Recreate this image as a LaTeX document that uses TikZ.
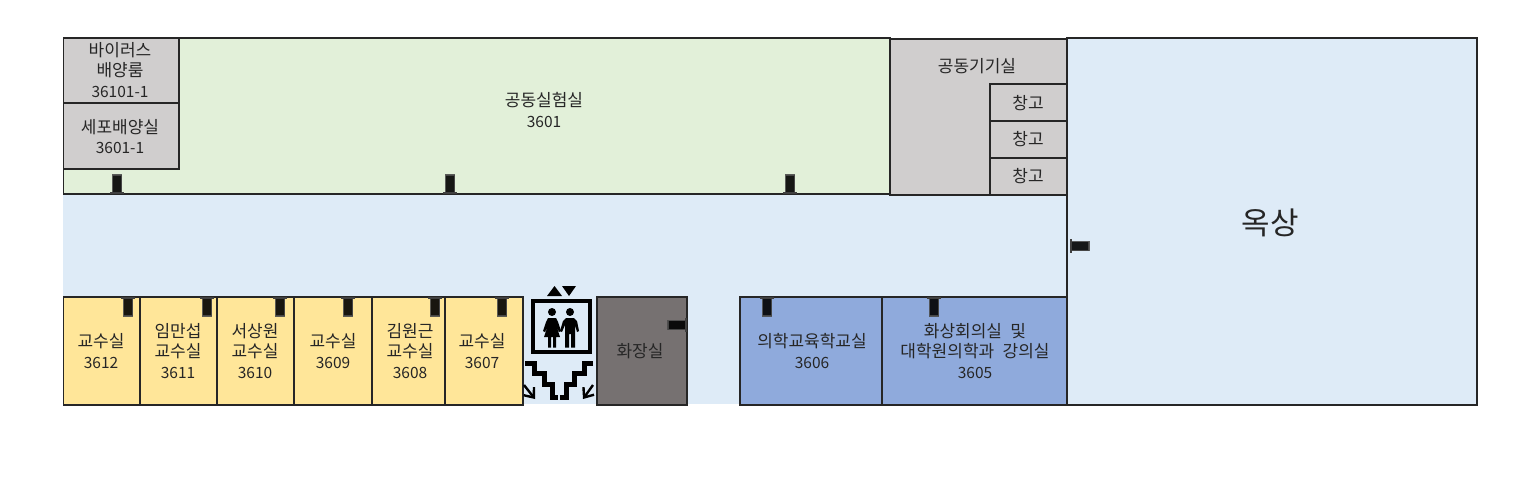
\documentclass[tikz,border=0pt]{standalone}
\usepackage{fontspec}
\setmainfont[WordSpace=2.2]{Noto Sans CJK KR}
\usetikzlibrary{arrows.meta}
\definecolor{cgreen}{HTML}{E2F0D9}
\definecolor{cblue}{HTML}{DEEBF7}
\definecolor{cgrey}{HTML}{D0CECE}
\definecolor{cyellow}{HTML}{FFE699}
\definecolor{cdark}{HTML}{767171}
\definecolor{cmid}{HTML}{8FAADC}
\definecolor{cline}{HTML}{262626}
\newcommand{\dg}[1]{{\fontsize{15.5}{20.5}\selectfont #1}}
\tikzset{
 room/.style={draw=cline,line width=1.05pt},
 lab/.style={align=center,font=\fontsize{17}{20.5}\selectfont,text=black!85,inner sep=0pt},
 doorpart/.style={fill=black,draw=black!70,line width=1.8pt,opacity=.9},
 stair/.style={draw=black,line width=5pt,line join=miter},
 stairarrow/.style={draw=black,line width=2.4pt,-{Straight Barb[length=8pt,width=13pt,line width=2.4pt]}},
 fig/.style={fill=black,draw=none}
}
\newcommand{\mydoor}[3]{%
 \begin{scope}[shift={(#1,#2)},rotate=#3]
  \draw[doorpart] (-4.5,0) -- (-4.5,-18) -- (4.5,-18) -- (4.5,0) -- cycle;
  \draw[black!75,line width=1.8pt] (-7,0) -- (7,0);
 \end{scope}}
\begin{document}
\begin{tikzpicture}[x=1pt,y=-1pt]
\useasboundingbox (0,0) rectangle (1531,491);
\fill[white] (0,0) rectangle (1531,491);
% corridor
\fill[cblue] (63,194) rectangle (1067,404);
% green lab
\draw[room,fill=cgreen] (63.5,38) rectangle (890,194);
\node[lab] (lab) at (544,110) {공동실험실\\\dg{3601}};
% left rooms
\draw[room,fill=cgrey] (63.5,38) rectangle (179,103);
\node[lab] (virus) at (120,70) {바이러스\\배양룸\\\dg{36101-1}};
\draw[room,fill=cgrey] (63.5,103) rectangle (179,169);
\node[lab] (cell) at (120,136.5) {세포배양실\\\dg{3601-1}};
% equipment
\draw[room,fill=cgrey] (890,39) rectangle (1067,195);
\node[lab] (equip) at (977,66.5) {공동기기실};
\draw[room,fill=cgrey] (990,84) rectangle (1067,121);
\draw[room,fill=cgrey] (990,121) rectangle (1067,158);
\draw[room,fill=cgrey] (990,158) rectangle (1067,195);
\node[lab] (s1) at (1028,103) {창고};
\node[lab] (s2) at (1028,139) {창고};
\node[lab] (s3) at (1028,176) {창고};
% roof
\draw[room,fill=cblue] (1067,38) rectangle (1477,405);
\node[lab,font=\fontsize{31}{32}\selectfont] (roof) at (1270,223) {옥상};
% professors
\draw[room,fill=cyellow] (63.5,297) rectangle (140,405);
\draw[room,fill=cyellow] (140,297) rectangle (217,405);
\draw[room,fill=cyellow] (217,297) rectangle (294,405);
\draw[room,fill=cyellow] (294,297) rectangle (372,405);
\draw[room,fill=cyellow] (372,297) rectangle (445,405);
\draw[room,fill=cyellow] (445,297) rectangle (523,405);
\node[lab] (r12) at (101,351) {교수실\\\dg{3612}};
\node[lab] (r11) at (178,351) {임만섭\\교수실\\\dg{3611}};
\node[lab] (r10) at (255,351) {서상원\\교수실\\\dg{3610}};
\node[lab] (r09) at (333,351) {교수실\\\dg{3609}};
\node[lab] (r08) at (410,351) {김원근\\교수실\\\dg{3608}};
\node[lab] (r07) at (482,351) {교수실\\\dg{3607}};
% toilet
\draw[room,fill=cdark] (597,297) rectangle (687,405);
\node[lab] (wc) at (640,351.5) {화장실};
% blue rooms
\draw[room,fill=cmid] (740,297) rectangle (882,405);
\draw[room,fill=cmid] (882,297) rectangle (1067,405);
\node[lab] (r06) at (812,351) {의학교육학교실\\\dg{3606}};
\node[lab] (r05) at (975,351) {화상회의실 및\\대학원의학과 강의실\\\dg{3605}};
% doors
\mydoor{117}{193}{0}
\mydoor{450}{193}{0}
\mydoor{790}{193}{0}
\mydoor{128}{298}{180}
\mydoor{207}{298}{180}
\mydoor{280}{298}{180}
\mydoor{348}{298}{180}
\mydoor{435}{298}{180}
\mydoor{502}{298}{180}
\mydoor{767}{298}{180}
\mydoor{934}{298}{180}
\mydoor{1071}{246}{-90}
\mydoor{686}{325}{90}
% elevator
\fill[black] (547,296) -- (562,296) -- (554.5,286) -- cycle;
\fill[black] (562,286) -- (576,286) -- (569,296) -- cycle;
\draw[black,line width=3.8pt] (533,301) rectangle (590,352);
% woman
\fill[fig] (552,312) circle (4);
\fill[fig] (548,318) -- (556,318) -- (558,322) -- (561,331) -- (559,332) -- (556,325) -- (560,337) -- (556,337) -- (556,347.5) -- (553,347.5) -- (553,337) -- (551,337) -- (551,347.5) -- (548,347.5) -- (548,337) -- (544,337) -- (548,325) -- (545,332) -- (543,331) -- (546,322) -- cycle;
% man
\fill[fig] (570,312) circle (4);
\fill[fig] (566,318) -- (574,318) -- (577,321) -- (579,331) -- (577,332) -- (575,325) -- (575,347.5) -- (571,347.5) -- (571,334) -- (569,334) -- (569,347.5) -- (565,347.5) -- (565,325) -- (562,332) -- (560,331) -- (563,321) -- cycle;
% stairs
\draw[stair] (525,363) -- (534,363) -- (534,373) -- (544,373) -- (544,384) -- (552,384) -- (552,397) -- (558,397);
\draw[stair] (593,363) -- (584,363) -- (584,373) -- (574,373) -- (574,384) -- (566,384) -- (566,397) -- (560,397);
\coordinate (al1) at (524,385);
\coordinate (al2) at (535,399);
\coordinate (ar1) at (593,385);
\coordinate (ar2) at (583,399);
\draw[stairarrow] (al1) -- (al2);
\draw[stairarrow] (ar1) -- (ar2);
\end{tikzpicture}
\end{document}
